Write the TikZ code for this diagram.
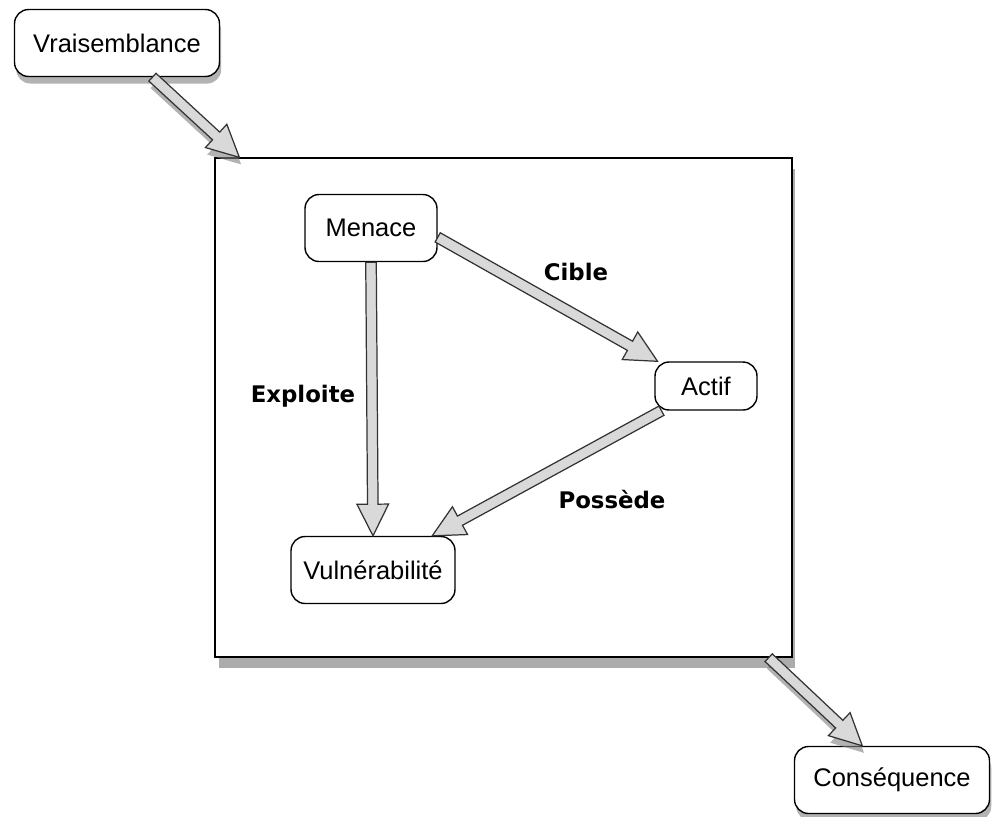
\documentclass[tikz,border=0pt]{standalone}
\usepackage{fontspec}
\setmainfont{Liberation Sans}
\newfontfamily\etiqfont{DejaVu Sans}
\usetikzlibrary{calc,shadows}

% Grosse fleche creuse entre deux points
\newcommand{\grossefleche}[3][]{%
  \coordinate (fb) at ($(#3)!18pt!(#2)$);
  \filldraw[fleche,#1] ($(#2)!3pt!90:(#3)$) -- ($(fb)!3pt!90:(#3)$) -- ($(fb)!9pt!90:(#3)$) -- (#3)
    -- ($(fb)!9pt!-90:(#3)$) -- ($(fb)!3pt!-90:(#3)$) -- ($(#2)!3pt!-90:(#3)$) -- cycle;}

\begin{document}
\begin{tikzpicture}[x=0.02cm, y=-0.02cm,
    boite/.style={draw, line width=0.8pt, rounded corners=8pt, fill=white, align=center,
      inner sep=0pt, minimum height=1.34cm, font=\fontsize{14.5}{17}\selectfont},
    ombre/.style={drop shadow={shadow xshift=1pt, shadow yshift=-4pt, opacity=0.6}},
    fleche/.style={fill=black!15, draw=black!80, line width=0.7pt, line join=miter},
    etiq/.style={font=\etiqfont\bfseries\fontsize{13}{15}\selectfont}]
    \useasboundingbox (0,0) rectangle (996,816);

    % Le cadre central
    \node[draw, line width=0.8pt, fill=white, minimum width=11.54cm, minimum height=9.98cm,
      drop shadow={shadow xshift=2pt, shadow yshift=-6pt, opacity=0.65}] (cadre) at (503.5,407.5) {};
    \coordinate (entree) at ($(cadre.north west)+(25,0)$);
    \coordinate (sortie) at ($(cadre.south east)+(-24,0)$);

    % Les boites
    \node[boite, ombre, minimum width=4.1cm] (vrais) at (117,43) {Vraisemblance};
    \node[boite, ombre, minimum width=3.9cm] (conseq) at (892,780) {Conséquence};
    \node[boite, minimum width=2.64cm] (menace) at (371,228) {Menace};
    \node[boite, minimum width=2.04cm, minimum height=0.96cm] (actif) at (706,386) {Actif};
    \node[boite, minimum width=3.28cm] (vuln) at (373,570) {Vulnérabilité};

    % Les fleches
    \grossefleche[ombre]{vrais.-44}{entree}
    \grossefleche[ombre]{sortie}{conseq.131}
    \grossefleche{menace.south}{vuln.north}
    \grossefleche{menace.-8}{actif.153}
    \grossefleche{actif.209}{vuln.30}

    % Etiquettes
    \node[etiq] (cible) at (576,272) {Cible};
    \node[etiq] (exploite) at (303,396) {Exploite};
    \node[etiq] (possede) at (612,500) {Possède};
\end{tikzpicture}
\end{document}
